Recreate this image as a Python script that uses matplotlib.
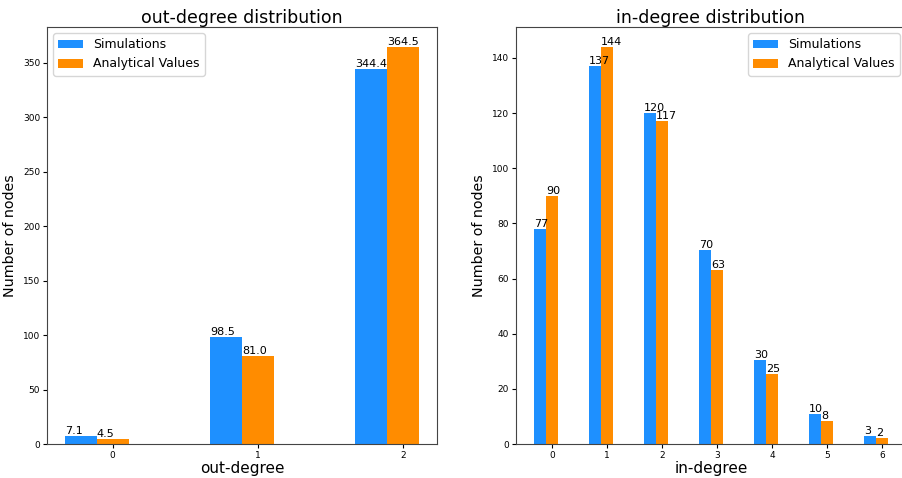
import matplotlib
matplotlib.use('Agg')
import matplotlib.pyplot as plt
import numpy as np

out_degrees = [0, 1, 2]
out_sim = [7.1, 98.5, 344.4]
out_ana = [4.5, 81.0, 364.5]

in_degrees = [0, 1, 2, 3, 4, 5, 6]
in_sim = [77.9, 137.0, 120.0, 70.2, 30.5, 10.8, 3.0]
in_ana = [90.1, 144.0, 117.2, 63.1, 25.3, 8.2, 2.3]

blue = '#1E90FF'
orange = '#FF8C00'
width = 0.22


def draw(ax, degrees, sim, ana, fmt, title, xlabel, legend_loc):
    x = np.array(degrees)
    b1 = ax.bar(x - width, sim, width, color=blue, label='Simulations')
    b2 = ax.bar(x, ana, width, color=orange, label='Analytical Values')
    # value labels on top of each bar, starting at the bar's left edge
    for bars in (b1, b2):
        for rect in bars:
            h = rect.get_height()
            ax.text(rect.get_x(), h, fmt(h), ha='left', va='bottom', fontsize=8)
    ax.set_xticks(x)
    ax.set_xticklabels([str(d) for d in degrees])
    ax.tick_params(labelsize=6.5, length=3, pad=2)
    for s in ax.spines.values():
        s.set_color('#444444')
    ax.set_title(title, fontsize=12.5, pad=3)
    ax.set_xlabel(xlabel, fontsize=11, labelpad=1)
    ax.set_ylabel('Number of nodes', fontsize=10.3, labelpad=4)
    ax.legend(loc=legend_loc, fontsize=9)


fig = plt.figure(figsize=(9.03, 4.78), dpi=100)
ax1 = fig.add_axes([47 / 903, 1 - 444 / 478, 390 / 903, 417 / 478])
ax2 = fig.add_axes([516 / 903, 1 - 444 / 478, 390 / 903, 417 / 478])

draw(ax1, out_degrees, out_sim, out_ana, lambda v: '%.1f' % v,
     'out-degree distribution', 'out-degree', 'upper left')
draw(ax2, in_degrees, in_sim, in_ana, lambda v: str(int(v)),
     'in-degree distribution', 'in-degree', 'upper right')

fig.savefig('out.png', dpi=100)
